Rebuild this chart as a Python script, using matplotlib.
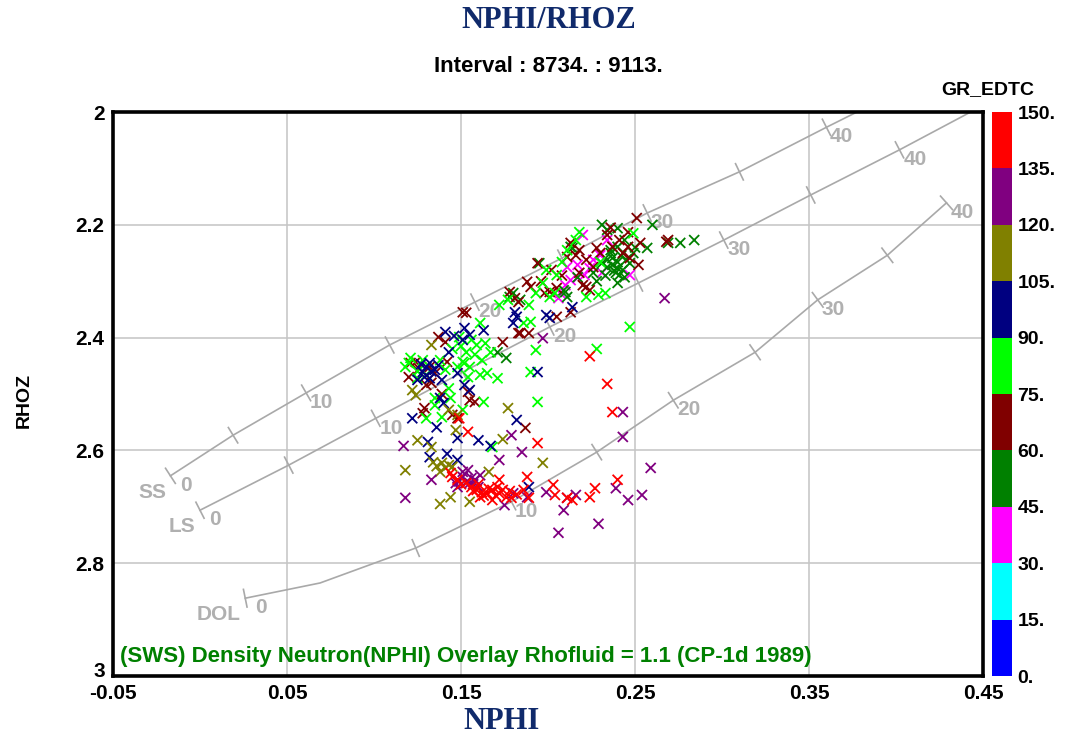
import numpy as np
import matplotlib
matplotlib.use("Agg")
import matplotlib.pyplot as plt
import matplotlib.transforms as mtrans
from matplotlib.colors import ListedColormap, BoundaryNorm

plt.rcParams['font.family'] = ['Liberation Sans', 'DejaVu Sans']

# ---- data: (NPHI, RHOZ) per GR_EDTC colour class ----
red_pts = [(0.144, 2.640), (0.145, 2.647), (0.148, 2.652), (0.153, 2.658), (0.156, 2.665),
           (0.159, 2.670), (0.162, 2.674), (0.165, 2.676), (0.168, 2.670), (0.171, 2.665),
           (0.172, 2.676), (0.174, 2.670), (0.176, 2.683), (0.172, 2.652), (0.188, 2.647),
           (0.186, 2.670), (0.189, 2.684), (0.203, 2.661), (0.204, 2.679), (0.211, 2.684),
           (0.214, 2.688), (0.227, 2.667), (0.224, 2.683), (0.240, 2.652), (0.194, 2.587),
           (0.161, 2.683), (0.168, 2.688), (0.179, 2.684), (0.234, 2.482), (0.237, 2.532),
           (0.224, 2.433), (0.154, 2.567), (0.149, 2.543), (0.150, 2.660), (0.157, 2.672),
           (0.163, 2.680), (0.166, 2.668), (0.170, 2.680), (0.178, 2.672), (0.182, 2.678),
           (0.160, 2.660)]
purple_pts = [(0.151, 2.647), (0.153, 2.656), (0.155, 2.658), (0.148, 2.665), (0.147, 2.658),
              (0.158, 2.652), (0.161, 2.644), (0.151, 2.638), (0.133, 2.652), (0.118, 2.684),
              (0.117, 2.592), (0.172, 2.617), (0.185, 2.603), (0.179, 2.573), (0.180, 2.676),
              (0.175, 2.697), (0.199, 2.674), (0.209, 2.706), (0.211, 2.684), (0.216, 2.679),
              (0.229, 2.730), (0.206, 2.746), (0.239, 2.667), (0.246, 2.688), (0.254, 2.679),
              (0.259, 2.631), (0.243, 2.532), (0.243, 2.576), (0.188, 2.683), (0.197, 2.401),
              (0.267, 2.330), (0.154, 2.635), (0.156, 2.649), (0.149, 2.655), (0.157, 2.660),
              (0.160, 2.665)]
olive_pts = [(0.133, 2.413), (0.122, 2.493), (0.124, 2.502), (0.177, 2.525), (0.174, 2.580),
             (0.125, 2.582), (0.118, 2.635), (0.136, 2.628), (0.139, 2.622), (0.141, 2.631),
             (0.143, 2.626), (0.145, 2.629), (0.134, 2.621), (0.166, 2.638), (0.197, 2.622),
             (0.144, 2.683), (0.138, 2.695), (0.155, 2.691), (0.133, 2.594), (0.148, 2.537),
             (0.143, 2.528), (0.147, 2.564), (0.138, 2.638)]
navy_pts = [(0.152, 2.383), (0.155, 2.395), (0.163, 2.387), (0.151, 2.404), (0.143, 2.426),
            (0.180, 2.374), (0.132, 2.445), (0.135, 2.457), (0.130, 2.452), (0.137, 2.449),
            (0.128, 2.461), (0.125, 2.475), (0.132, 2.472), (0.139, 2.475), (0.148, 2.463),
            (0.152, 2.484), (0.155, 2.493), (0.138, 2.507), (0.140, 2.516), (0.122, 2.543),
            (0.136, 2.559), (0.148, 2.578), (0.160, 2.582), (0.167, 2.592), (0.182, 2.546),
            (0.131, 2.585), (0.132, 2.612), (0.142, 2.606), (0.148, 2.617), (0.194, 2.461),
            (0.181, 2.355), (0.182, 2.363), (0.199, 2.360), (0.201, 2.365), (0.214, 2.346),
            (0.189, 2.665), (0.127, 2.447), (0.133, 2.460), (0.129, 2.470), (0.141, 2.390),
            (0.146, 2.397)]
lime_pts = [(0.161, 2.374), (0.149, 2.399), (0.156, 2.404), (0.159, 2.413), (0.164, 2.410),
            (0.167, 2.426), (0.153, 2.426), (0.151, 2.443), (0.152, 2.445), (0.155, 2.452),
            (0.148, 2.452), (0.161, 2.466), (0.165, 2.463), (0.171, 2.472), (0.154, 2.470),
            (0.121, 2.436), (0.118, 2.452), (0.128, 2.440), (0.125, 2.472), (0.130, 2.466),
            (0.135, 2.507), (0.144, 2.507), (0.151, 2.528), (0.163, 2.514), (0.130, 2.543),
            (0.139, 2.541), (0.193, 2.422), (0.190, 2.461), (0.194, 2.514), (0.168, 2.594),
            (0.186, 2.374), (0.190, 2.372), (0.201, 2.328), (0.197, 2.303), (0.193, 2.321),
            (0.199, 2.280), (0.204, 2.321), (0.172, 2.342), (0.177, 2.333), (0.189, 2.342),
            (0.247, 2.381), (0.228, 2.420), (0.205, 2.289), (0.249, 2.215), (0.233, 2.321),
            (0.229, 2.324), (0.222, 2.328), (0.211, 2.245), (0.216, 2.227), (0.218, 2.213),
            (0.230, 2.266), (0.208, 2.266), (0.138, 2.440), (0.141, 2.457), (0.125, 2.460),
            (0.120, 2.445), (0.145, 2.420), (0.150, 2.415), (0.158, 2.430), (0.162, 2.440),
            (0.135, 2.520), (0.143, 2.490)]
maroon_pts = [(0.137, 2.399), (0.141, 2.408), (0.121, 2.445), (0.124, 2.443), (0.142, 2.443),
              (0.132, 2.452), (0.135, 2.463), (0.130, 2.484), (0.154, 2.496), (0.158, 2.514),
              (0.155, 2.511), (0.129, 2.525), (0.128, 2.534), (0.145, 2.537), (0.148, 2.543),
              (0.174, 2.408), (0.183, 2.392), (0.189, 2.392), (0.187, 2.560), (0.194, 2.268),
              (0.188, 2.301), (0.178, 2.319), (0.181, 2.330), (0.183, 2.337), (0.198, 2.321),
              (0.201, 2.319), (0.205, 2.312), (0.184, 2.392), (0.205, 2.363), (0.213, 2.355),
              (0.151, 2.355), (0.153, 2.356), (0.222, 2.310), (0.211, 2.257), (0.218, 2.245),
              (0.228, 2.241), (0.226, 2.275), (0.251, 2.188), (0.234, 2.218), (0.241, 2.227),
              (0.246, 2.239), (0.252, 2.271), (0.247, 2.259), (0.269, 2.227), (0.213, 2.232),
              (0.216, 2.254), (0.220, 2.307), (0.224, 2.316), (0.237, 2.239), (0.243, 2.250),
              (0.253, 2.232), (0.268, 2.230), (0.246, 2.213), (0.202, 2.280), (0.236, 2.205),
              (0.230, 2.250), (0.222, 2.262), (0.208, 2.290), (0.196, 2.300), (0.190, 2.310),
              (0.218, 2.285), (0.126, 2.455), (0.133, 2.480), (0.139, 2.500), (0.120, 2.470)]
green_pts = [(0.231, 2.200), (0.234, 2.209), (0.240, 2.206), (0.260, 2.200), (0.269, 2.232),
             (0.276, 2.232), (0.284, 2.227), (0.257, 2.241), (0.236, 2.250), (0.237, 2.259),
             (0.240, 2.266), (0.237, 2.271), (0.234, 2.275), (0.240, 2.277), (0.243, 2.280),
             (0.239, 2.285), (0.240, 2.303), (0.249, 2.250), (0.247, 2.268), (0.244, 2.293),
             (0.234, 2.262), (0.231, 2.268), (0.210, 2.319), (0.214, 2.241), (0.211, 2.328),
             (0.180, 2.321), (0.178, 2.328), (0.184, 2.333), (0.195, 2.268), (0.213, 2.239),
             (0.217, 2.293), (0.209, 2.316), (0.176, 2.436), (0.171, 2.426), (0.240, 2.239),
             (0.244, 2.227), (0.241, 2.289), (0.236, 2.245), (0.242, 2.255), (0.245, 2.262),
             (0.238, 2.281), (0.233, 2.290), (0.228, 2.300), (0.250, 2.240), (0.226, 2.285)]
magenta_pts = [(0.220, 2.218), (0.211, 2.275), (0.217, 2.271), (0.221, 2.289), (0.217, 2.294),
               (0.231, 2.285), (0.230, 2.254), (0.226, 2.262), (0.234, 2.227), (0.247, 2.289),
               (0.210, 2.307), (0.206, 2.330), (0.207, 2.321), (0.213, 2.298), (0.224, 2.277)]

# representative GR value of each class, in drawing order
groups = [(magenta_pts, 37), (green_pts, 52), (maroon_pts, 67), (lime_pts, 82),
          (navy_pts, 97), (olive_pts, 112), (purple_pts, 128), (red_pts, 142)]

gr_bounds = [0, 15, 30, 45, 60, 75, 90, 105, 120, 135, 150]
gr_labels = ['0.', '15.', '30.', '45.', '60.', '75.', '90.', '105.', '120.', '135.', '150.']
gr_colors = ['#0000ff', '#00ffff', '#ff00ff', '#008000', '#800000',
             '#00ff00', '#000080', '#808000', '#800080', '#ff0000']

# lithology lines of the CP-1d chart (porosity p.u., NPHI, RHOZ)
ss_por = [0, 5, 10, 15, 20, 25, 30, 35, 40, 45]
ss_nphi = [-0.017, 0.019, 0.061, 0.109, 0.158, 0.208, 0.257, 0.310, 0.360, 0.410]
ss_rhoz = [2.645, 2.573, 2.498, 2.413, 2.337, 2.259, 2.179, 2.106, 2.027, 1.950]
ls_por = [0, 5, 10, 15, 20, 25, 30, 35, 40, 45]
ls_nphi = [0.000, 0.051, 0.101, 0.151, 0.201, 0.252, 0.301, 0.351, 0.402, 0.452]
ls_rhoz = [2.706, 2.626, 2.543, 2.461, 2.381, 2.303, 2.227, 2.147, 2.067, 1.985]
dol_por = [0, 2, 5, 10, 15, 20, 25, 30, 35, 40]
dol_nphi = [0.026, 0.069, 0.124, 0.179, 0.228, 0.272, 0.319, 0.355, 0.395, 0.429]
dol_rhoz = [2.862, 2.835, 2.773, 2.691, 2.603, 2.511, 2.426, 2.333, 2.254, 2.161]

x_ticks = [-0.05, 0.05, 0.15, 0.25, 0.35, 0.45]
x_labels = ['-0.05', '0.05', '0.15', '0.25', '0.35', '0.45']
y_ticks = [2.0, 2.2, 2.4, 2.6, 2.8, 3.0]
y_labels = ['2', '2.2', '2.4', '2.6', '2.8', '3']

NAVY = '#102a6b'
GRAY = '#a9a9a9'
LBL_GRAY = '#b0b0b0'

fig = plt.figure(figsize=(10.67, 7.42), dpi=100)
ax = fig.add_axes([0.1059, 0.0889, 0.8154, 0.7601])
cax = fig.add_axes([0.9297, 0.0889, 0.0187, 0.7601])

ax.set_xlim(-0.05, 0.45)
ax.set_ylim(3.0, 2.0)
ax.set_xticks(x_ticks)
ax.set_xticklabels(x_labels)
ax.set_yticks(y_ticks)
ax.set_yticklabels(y_labels)
ax.tick_params(length=0, labelsize=15, pad=6)
for t in ax.get_xticklabels() + ax.get_yticklabels():
    t.set_fontweight('bold')
# the bottom "3" sits a little higher, just above the "-0.05"
lab3 = ax.get_yticklabels()[-1]
lab3.set_transform(lab3.get_transform() + mtrans.ScaledTranslation(0, 5 / 72, fig.dpi_scale_trans))
ax.grid(True, color='#c4c4c4', lw=1.1, zorder=0)
ax.set_axisbelow(True)
for s in ax.spines.values():
    s.set_linewidth(2.6)
    s.set_color('black')
    s.set_zorder(10)


def draw_litho(por, nphi, rhoz, name):
    ax.plot(nphi, rhoz, color=GRAY, lw=1.2, zorder=2, clip_on=True)
    pts = ax.transData.transform(np.column_stack([nphi, rhoz]))
    inv = ax.transData.inverted()
    for i, p in enumerate(por):
        if p % 5 or p > 40:
            continue
        j0, j1 = max(i - 1, 0), min(i + 1, len(por) - 1)
        d = pts[j1] - pts[j0]
        d = d / np.hypot(d[0], d[1])
        n = np.array([-d[1], d[0]]) * 9
        seg = inv.transform(np.array([pts[i] - n, pts[i] + n]))
        ax.plot(seg[:, 0], seg[:, 1], color=GRAY, lw=1.2, zorder=2)
        if p % 10 == 0:
            ax.annotate(str(p), (nphi[i], rhoz[i]), xytext=(11, -7),
                        textcoords='offset points', ha='center', va='center',
                        color=LBL_GRAY, fontsize=15, fontweight='bold', zorder=3)
    ax.annotate(name, (nphi[0], rhoz[0]), xytext=(-3, -12),
                textcoords='offset points', ha='right', va='center',
                color=LBL_GRAY, fontsize=15, fontweight='bold', zorder=3)


draw_litho(ss_por, ss_nphi, ss_rhoz, 'SS')
draw_litho(ls_por, ls_nphi, ls_rhoz, 'LS')
draw_litho(dol_por, dol_nphi, dol_rhoz, 'DOL')

cmap = ListedColormap(gr_colors)
norm = BoundaryNorm(gr_bounds, cmap.N)
sc = None
for pts, gr in groups:
    arr = np.array(pts)
    sc = ax.scatter(arr[:, 0], arr[:, 1], c=np.full(len(arr), gr), cmap=cmap, norm=norm,
                    marker='x', s=52, linewidths=1.3, zorder=4)

ax.text(0.008, 0.034, '(SWS) Density Neutron(NPHI) Overlay Rhofluid = 1.1 (CP-1d 1989)',
        transform=ax.transAxes, color='#008000', fontsize=16, fontweight='bold',
        va='center', ha='left', zorder=5)

cb = fig.colorbar(sc, cax=cax, boundaries=gr_bounds, ticks=gr_bounds)
cb.outline.set_visible(False)
cb.ax.set_yticklabels(gr_labels)
cb.ax.tick_params(length=0, labelsize=14, pad=4)
for t in cb.ax.get_yticklabels():
    t.set_fontweight('bold')

fig.text(0.926, 0.879, 'GR_EDTC', ha='center', va='center', fontsize=14, fontweight='bold')
fig.text(0.514, 0.973, 'NPHI/RHOZ', ha='center', va='center', fontsize=22,
         fontweight='bold', color=NAVY, family=['Liberation Serif', 'DejaVu Serif'])
fig.text(0.514, 0.911, 'Interval : 8734. : 9113.', ha='center', va='center',
         fontsize=16, fontweight='bold')
fig.text(0.4696, 0.027, 'NPHI', ha='center', va='center', fontsize=22,
         fontweight='bold', color=NAVY, family=['Liberation Serif', 'DejaVu Serif'])
fig.text(0.023, 0.461, 'RHOZ', ha='center', va='center', rotation=90,
         fontsize=14, fontweight='bold')

fig.savefig('out.png', dpi=100)
